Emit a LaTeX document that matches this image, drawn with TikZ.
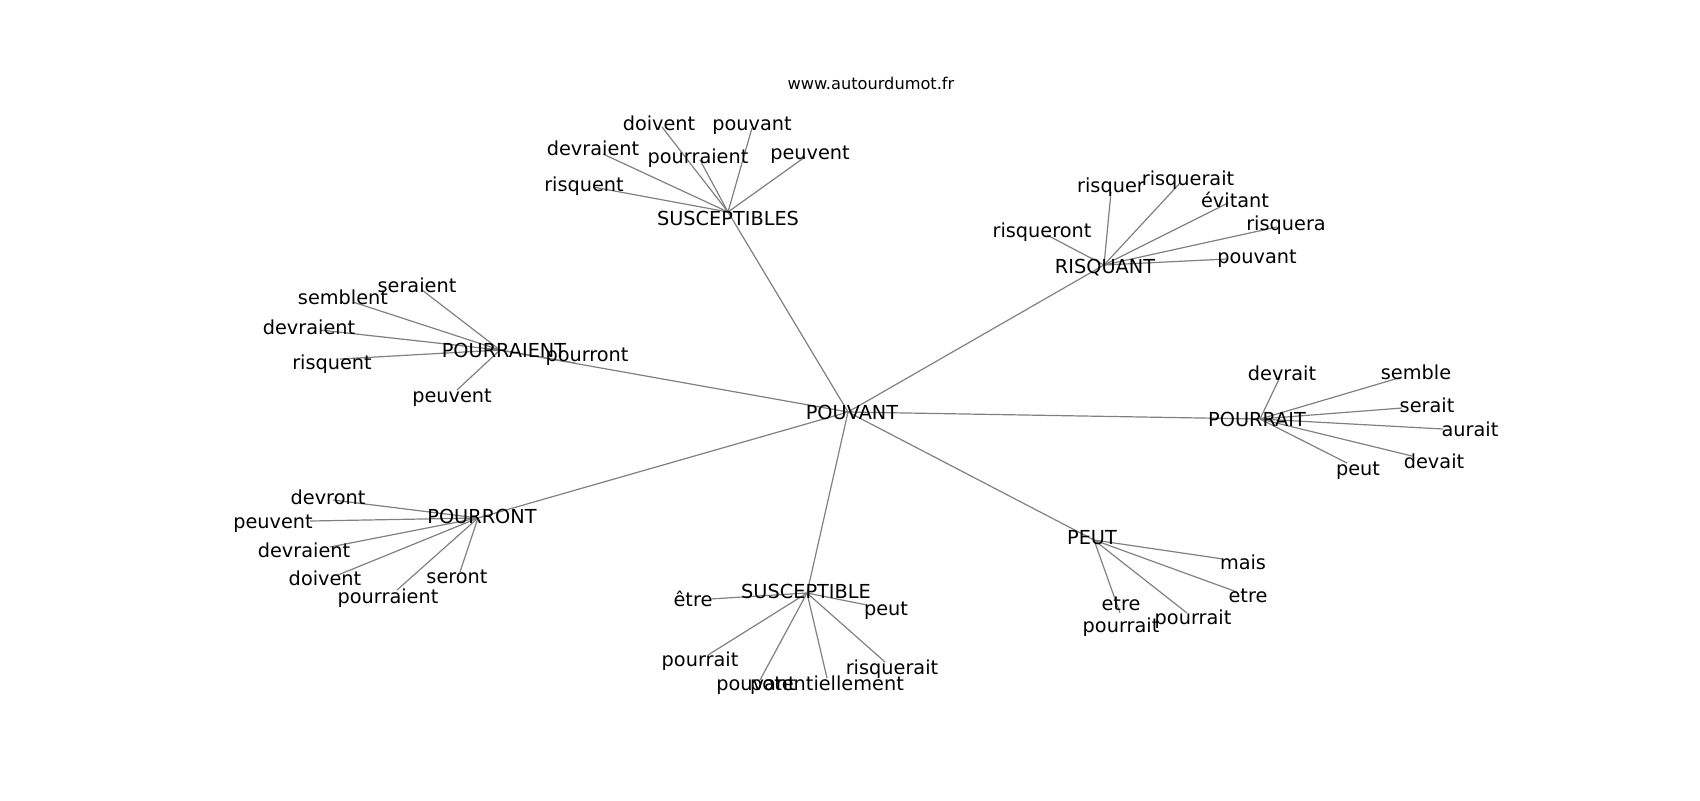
\documentclass[tikz,border=0pt]{standalone}
\usepackage{fontspec}
\setmainfont{DejaVu Sans}
\begin{document}
\begin{tikzpicture}[x=0.5pt,y=-0.5pt,
  edge/.style={draw=gray, line width=0.6pt},
  lbl/.style={inner sep=0pt, font=\fontsize{9.65}{11}\selectfont},
  dsc/.style={lbl, yshift=-1.3pt},
  ttl/.style={inner sep=0pt, font=\fontsize{8.1}{9.7}\selectfont}]
\useasboundingbox (0,0) rectangle (1700,800);
% graph vertices
\coordinate (pv) at (848,412);
\coordinate (ss) at (728,212);
\coordinate (rq) at (1104,265);
\coordinate (pre) at (500,350);
\coordinate (pra) at (1260,419);
\coordinate (pro) at (478,518);
\coordinate (s1) at (807,593);
\coordinate (pt) at (1094,540);
% SUSCEPTIBLES children
\coordinate (ss1) at (662,127);
\coordinate (ss2) at (752,128);
\coordinate (ss3) at (603,154);
\coordinate (ss4) at (700,160);
\coordinate (ss5) at (805,157);
\coordinate (ss6) at (593,187);
% RISQUANT children
\coordinate (rq1) at (1111,192);
\coordinate (rq2) at (1180,183);
\coordinate (rq3) at (1228,203);
\coordinate (rq4) at (1047,235);
\coordinate (rq5) at (1277,227);
\coordinate (rq6) at (1227,259);
% POURRAIENT children
\coordinate (pre1) at (422,290);
\coordinate (pre2) at (353,302);
\coordinate (pre3) at (320,330);
\coordinate (pre4) at (340,359);
\coordinate (pre5) at (457,390);
\coordinate (pre6) at (575,363);
% POURRAIT children
\coordinate (pra1) at (1280,377);
\coordinate (pra2) at (1402,377);
\coordinate (pra3) at (1402,408);
\coordinate (pra4) at (1443,429);
\coordinate (pra5) at (1412,456);
\coordinate (pra6) at (1347,463);
% POURRONT children
\coordinate (pro1) at (333,500);
\coordinate (pro2) at (310,521);
\coordinate (pro3) at (330,547);
\coordinate (pro4) at (338,575);
\coordinate (pro5) at (397,590);
\coordinate (pro6) at (460,572);
% SUSCEPTIBLE children
\coordinate (s11) at (710,599);
\coordinate (s12) at (867,605);
\coordinate (s13) at (708,655);
\coordinate (s14) at (760,680);
\coordinate (s15) at (827,678);
\coordinate (s16) at (885,662);
% PEUT children
\coordinate (pt1) at (1223,559);
\coordinate (pt2) at (1237,592);
\coordinate (pt3) at (1187,613);
\coordinate (pt4) at (1120,613);
% edges
\foreach \h in {ss,rq,pre,pra,pro,s1,pt} \draw[edge] (pv) -- (\h);
\foreach \c in {1,...,6} {
  \draw[edge] (ss) -- (ss\c);
  \draw[edge] (rq) -- (rq\c);
  \draw[edge] (pre) -- (pre\c);
  \draw[edge] (pra) -- (pra\c);
  \draw[edge] (pro) -- (pro\c);
  \draw[edge] (s1) -- (s1\c);
}
\foreach \c in {1,...,4} \draw[edge] (pt) -- (pt\c);
% labels
\node[ttl] (title) at (871,83) {www.autourdumot.fr};
\node[lbl] (lpv) at (852,412) {POUVANT};
\node[lbl] (lss) at (728,218) {SUSCEPTIBLES};
\node[dsc] (lrq) at (1105,265) {RISQUANT};
\node[lbl] (lpre) at (504,350) {POURRAIENT};
\node[lbl] (lpra) at (1257,419) {POURRAIT};
\node[lbl] (lpro) at (482,516) {POURRONT};
\node[lbl] (ls1) at (806,591) {SUSCEPTIBLE};
\node[lbl] (lpt) at (1092,538) {PEUT};
%
\node[lbl] (lss1) at (659,123) {doivent};
\node[dsc] (lss2) at (752,123) {pouvant};
\node[lbl] (lss3) at (593,148) {devraient};
\node[dsc] (lss4) at (698,156) {pourraient};
\node[dsc] (lss5) at (810,152) {peuvent};
\node[dsc] (lss6) at (584,184) {risquent};
%
\node[dsc] (lrq1) at (1111,185) {risquer};
\node[dsc] (lrq2) at (1188,178) {risquerait};
\node[lbl] (lrq3) at (1235,200) {évitant};
\node[dsc] (lrq4) at (1042,230) {risqueront};
\node[dsc] (lrq5) at (1286,223) {risquera};
\node[dsc] (lrq6) at (1257,256) {pouvant};
%
\node[lbl] (lpre1) at (417,285) {seraient};
\node[lbl] (lpre2) at (343,297) {semblent};
\node[lbl] (lpre3) at (309,327) {devraient};
\node[dsc] (lpre4) at (332,362) {risquent};
\node[dsc] (lpre5) at (452,395) {peuvent};
\node[dsc] (lpre6) at (587,354) {pourront};
%
\node[lbl] (lpra1) at (1282,373) {devrait};
\node[lbl] (lpra2) at (1416,372) {semble};
\node[lbl] (lpra3) at (1427,405) {serait};
\node[lbl] (lpra4) at (1470,429) {aurait};
\node[lbl] (lpra5) at (1434,461) {devait};
\node[dsc] (lpra6) at (1358,468) {peut};
%
\node[lbl] (lpro1) at (328,497) {devront};
\node[dsc] (lpro2) at (273,521) {peuvent};
\node[lbl] (lpro3) at (304,550) {devraient};
\node[lbl] (lpro4) at (325,578) {doivent};
\node[dsc] (lpro5) at (388,596) {pourraient};
\node[lbl] (lpro6) at (457,577) {seront};
%
\node[lbl] (ls11) at (693,599) {être};
\node[dsc] (ls12) at (886,608) {peut};
\node[dsc] (ls13) at (700,659) {pourrait};
\node[dsc] (ls14) at (756,683) {pouvant};
\node[dsc] (ls15) at (827,683) {potentiellement};
\node[dsc] (ls16) at (892,667) {risquerait};
%
\node[lbl] (lpt1) at (1243,562) {mais};
\node[lbl] (lpt2) at (1248,596) {etre};
\node[dsc] (lpt3) at (1193,617) {pourrait};
\node[dsc, align=center] (lpt4) at (1121,614) {etre\\pourrait};
\end{tikzpicture}
\end{document}
